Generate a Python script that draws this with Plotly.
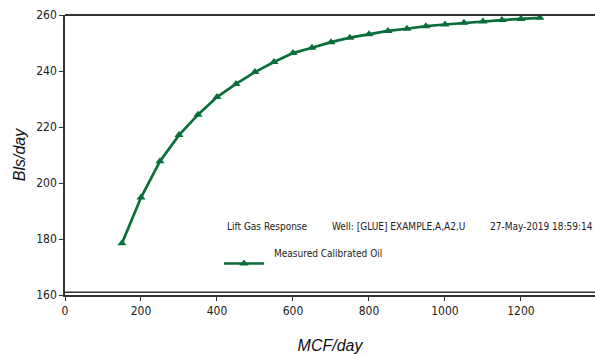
import plotly.graph_objects as go

gas_mcf = [150, 200, 250, 300, 350, 400, 450, 500, 550, 600, 650, 700, 750,
           800, 850, 900, 950, 1000, 1050, 1100, 1150, 1200, 1250]
oil_bls = [178.5, 194.8, 207.8, 217.1, 224.4, 230.7, 235.4, 239.6, 243.2, 246.4,
           248.3, 250.3, 251.9, 253.1, 254.3, 255.1, 256.0, 256.6, 257.2, 257.7,
           258.2, 258.6, 259.0]
x_ticks = [0, 200, 400, 600, 800, 1000, 1200]
y_ticks = [160, 180, 200, 220, 240, 260]
series_name = "Measured Calibrated Oil"
header_texts = ["Lift Gas Response", "Well: [GLUE] EXAMPLE,A,A2,U", "27-May-2019 18:59:14"]

GREEN = "#0a6e3a"
FONT = "DejaVu Sans Condensed, Liberation Sans, Arial, sans-serif"
TITLE_FONT = "Liberation Sans, Arial, sans-serif"
W_PLOT, H_PLOT, L, T = 530, 280, 65, 15

fig = go.Figure()
fig.add_trace(go.Scatter(
    x=gas_mcf, y=oil_bls, mode="lines+markers", name=series_name,
    line=dict(color=GREEN, width=2.7),
    marker=dict(symbol="triangle-up", size=8, color=GREEN),
))

fig.update_layout(
    width=595, height=354,
    margin=dict(l=L, r=0, t=T, b=59, autoexpand=False),
    paper_bgcolor="white", plot_bgcolor="white",
    font=dict(family=FONT, size=12, color="#222"),
    showlegend=True,
    legend=dict(x=(219 - L) / W_PLOT, y=(295 - 249) / H_PLOT, xanchor="left", yanchor="top",
                bgcolor="rgba(0,0,0,0)", itemwidth=40,
                font=dict(family=FONT, size=10, color="rgba(0,0,0,0)")),
    xaxis=dict(range=[0, 1395], tickvals=x_ticks, showgrid=False, zeroline=False,
               showline=True, linecolor="#333", linewidth=2, ticks="outside",
               ticklen=4, tickcolor="#333",
               title=dict(text="<i>MCF/day</i>", font=dict(family=TITLE_FONT, size=16, color="#111"),
                          standoff=22)),
    yaxis=dict(range=[160, 260], tickvals=y_ticks, showgrid=False, zeroline=False,
               showline=True, linecolor="#333", linewidth=1.5, ticks="outside",
               ticklen=4, tickcolor="#333",
               title=dict(text="<i>Bls/day</i>", font=dict(family=TITLE_FONT, size=16, color="#111"),
                          standoff=7)),
    shapes=[
        dict(type="line", xref="paper", yref="paper", x0=0, x1=1, y0=1, y1=1,
             line=dict(color="#333", width=2)),
        dict(type="line", xref="paper", yref="paper", x0=0, x1=1, y0=0.01, y1=0.01,
             line=dict(color="#333", width=1.5)),
    ],
)
ann = []
for text, px in zip(header_texts, [225, 330, 488]):
    ann.append(dict(text=text, x=(px - L) / W_PLOT, y=(295 - 226) / H_PLOT,
                    xref="paper", yref="paper", xanchor="left", yanchor="middle",
                    showarrow=False, font=dict(family=FONT, size=10, color="#222")))
ann.append(dict(text=series_name, x=(272 - L) / W_PLOT, y=(295 - 253) / H_PLOT,
                xref="paper", yref="paper", xanchor="left", yanchor="middle",
                showarrow=False, font=dict(family=FONT, size=10, color="#222")))
fig.update_layout(annotations=ann)

fig.write_html("out.html", config={"displayModeBar": False},
               post_script="document.body.style.margin='0';")
